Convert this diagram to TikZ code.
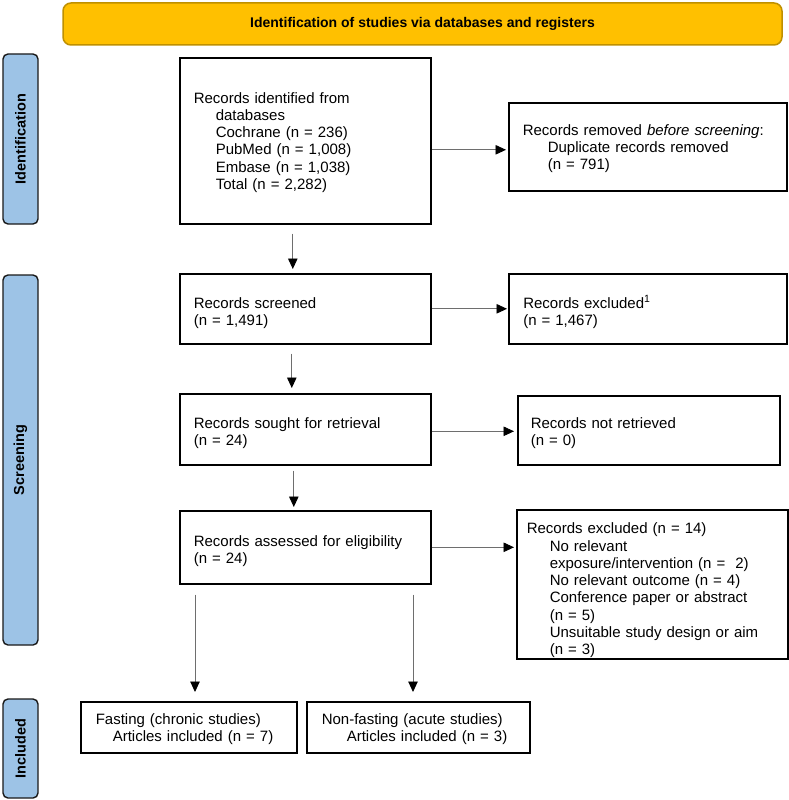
\documentclass[tikz,border=0pt]{standalone}
\usepackage{fontspec}
\setmainfont{Liberation Sans}
\usetikzlibrary{arrows.meta}
\definecolor{bannerY}{HTML}{FFC000}
\definecolor{bannerB}{HTML}{BF9000}
\definecolor{sideB}{HTML}{9DC3E6}
\definecolor{lineG}{HTML}{6E6E6E}
\tikzset{
  box/.style={draw=black, line width=1.6pt, fill=white, anchor=north west,
    inner xsep=14pt, inner ysep=0pt, align=left,
    font=\fontsize{15}{17.25}\selectfont},
  sidelabel/.style={draw=black!90, line width=1.4pt, fill=sideB, rounded corners=5pt,
    rotate=90, minimum height=35pt, inner sep=0pt,
    font=\fontsize{14.5}{17}\selectfont\bfseries},
  arr/.style={draw=lineG, line width=0.9pt,
    -{Triangle[width=9.5pt,length=10.5pt,fill=black,color=black]}},
}
\newcommand{\ind}[1]{\hspace*{#1pt}}
\newcommand{\lowr}[1]{\rule{0pt}{#1pt}}
\begin{document}
\begin{tikzpicture}[x=1pt,y=-1pt]
\useasboundingbox (0,0) rectangle (789,800);
% banner
\node[draw=bannerB, line width=1.5pt, fill=bannerY, rounded corners=8pt,
  minimum width=719pt, minimum height=42pt, inner sep=0pt,
  font=\fontsize{14}{16}\selectfont\bfseries] (banner) at (422.5,24)
  {Identification of studies via databases and registers};
% side labels
\node[sidelabel, minimum width=170pt] (sid) at (20.5,139) {Identification};
\node[sidelabel, minimum width=370pt] (sscr) at (20.5,460) {Screening};
\node[sidelabel, minimum width=99pt] (sinc) at (20.5,748.5) {Included};
% boxes
\node[box, minimum width=251pt, minimum height=166pt, text width=223pt] (box1) at (179,57)
  {\lowr{14}Records identified from\\
   \ind{22}databases\\
   \ind{22}Cochrane (n = 236)\\
   \ind{22}PubMed (n = 1,008)\\
   \ind{22}Embase (n = 1,038)\\
   \ind{22}Total (n = 2,282)};
\node[box, minimum width=278pt, minimum height=88pt, text width=250pt] (removed) at (508,102)
  {\lowr{15}Records removed \textit{before screening}:\\
   \ind{25}Duplicate records removed\\
   \ind{25}(n = 791)};
\node[box, minimum width=251pt, minimum height=70pt, text width=223pt] (scr) at (179,273)
  {\lowr{19}Records screened\\(n = 1,491)};
\node[box, minimum width=278pt, minimum height=70pt, text width=249pt, inner xsep=14.5pt] (exc1) at (508,273)
  {\lowr{19}Records excluded\textsuperscript{1}\\(n = 1,467)};
\node[box, minimum width=251pt, minimum height=71pt, text width=223pt] (sought) at (179,393)
  {\lowr{19}Records sought for retrieval\\(n = 24)};
\node[box, minimum width=262pt, minimum height=69pt, text width=236pt, inner xsep=13pt] (notret) at (517,395)
  {\lowr{17}Records not retrieved\\(n = 0)};
\node[box, minimum width=251pt, minimum height=73pt, text width=223pt] (assessed) at (179,510)
  {\lowr{19}Records assessed for eligibility\\(n = 24)};
\node[box, minimum width=271pt, minimum height=149pt, text width=251pt, inner xsep=10pt] (exc14) at (516,509)
  {\lowr{23}Records excluded (n = 14)\\
   \ind{23}No relevant\\
   \ind{23}exposure/intervention (n = \ 2)\\
   \ind{23}No relevant outcome (n = 4)\\
   \ind{23}Conference paper or abstract\\
   \ind{23}(n = 5)\\
   \ind{23}Unsuitable study design or aim\\
   \ind{23}(n = 3)};
\node[box, minimum width=216pt, minimum height=51pt, text width=186pt, inner xsep=15pt] (fast) at (80,701)
  {\lowr{14}Fasting (chronic studies)\\
   \ind{17}Articles included (n = 7)};
\node[box, minimum width=223pt, minimum height=51pt, text width=193pt, inner xsep=15pt] (nonfast) at (306,701)
  {\lowr{14}Non-fasting (acute studies)\\
   \ind{25}Articles included (n = 3)};
% connectors
\coordinate (h1) at ([yshift=-9pt]box1.east);
\draw[arr, shorten >=2pt] (h1) -- (h1 -| removed.west);
\draw[arr, shorten >=1pt] (scr.east) -- (exc1.west);
\coordinate (h3) at ([yshift=-2pt]sought.east);
\draw[arr, shorten >=3pt] (h3) -- (h3 -| notret.west);
\draw[arr, shorten >=2pt] (assessed.east) -- (assessed.east -| exc14.west);
\coordinate (v1) at ([xshift=-12.5pt,yshift=-9pt]box1.south);
\draw[arr, shorten >=4pt] (v1) -- (v1 |- scr.north);
\coordinate (v2) at ([xshift=-13.5pt,yshift=-9pt]scr.south);
\draw[arr, shorten >=5pt] (v2) -- (v2 |- sought.north);
\coordinate (v3) at ([xshift=-11.5pt,yshift=-5pt]sought.south);
\draw[arr, shorten >=3pt] (v3) -- (v3 |- assessed.north);
\coordinate (v4) at ([xshift=16pt,yshift=-10pt]assessed.south west);
\draw[arr, shorten >=9pt] (v4) -- (v4 |- fast.north);
\coordinate (v5) at ([xshift=234pt,yshift=-10pt]assessed.south west);
\draw[arr, shorten >=9pt] (v5) -- (v5 |- nonfast.north);
\end{tikzpicture}
\end{document}
